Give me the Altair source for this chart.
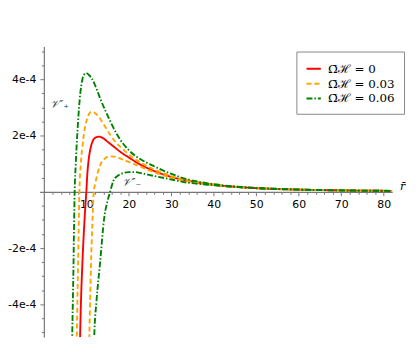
import altair as alt
import pandas as pd

# ---- data (r, potential in units of 1e-4) ----
labels = ["Ω̄ℋ = 0", "Ω̄ℋ = 0.03", "Ω̄ℋ = 0.06"]
colors = ["#ff0000", "#ffa500", "#008000"]

red_r = [8.45, 8.6, 8.8, 9.0, 9.2, 9.5, 9.75, 10.0, 10.2, 10.6, 11.0, 11.5, 12.2, 13.0, 14.0, 15.0,
         16.5, 18.0, 20.0, 22.0, 25.0, 30.0, 35.0, 40.0, 50.0, 60.0, 70.0, 80.0, 82.0]
red_v = [-5.7, -4.7, -3.6, -2.8, -2.1, -1.2, -0.55, 0.0, 0.55, 1.2, 1.55, 1.8, 1.93, 1.96, 1.9, 1.78,
         1.6, 1.42, 1.22, 1.03, 0.8, 0.53, 0.36, 0.25, 0.13, 0.078, 0.05, 0.035, 0.033]

orange_plus_r = [7.68, 7.75, 7.9, 8.06, 8.2, 8.37, 8.68, 9.0, 9.3, 9.7, 10.2, 10.7, 11.16, 12.0, 12.95,
                 14.0, 15.65, 17.0, 18.8, 20.5, 22.3, 25.0, 30.0, 35.0, 40.0, 50.0, 60.0, 70.0, 80.0, 82.0]
orange_plus_v = [-5.7, -5.16, -3.8, -2.58, -1.3, 0.0, 0.96, 1.5, 1.9, 2.3, 2.6, 2.78, 2.84, 2.8, 2.66,
                 2.42, 2.02, 1.75, 1.49, 1.27, 1.08, 0.86, 0.56, 0.38, 0.26, 0.135, 0.08, 0.051, 0.036, 0.034]

orange_minus_r = [10.6, 10.7, 10.9, 11.1, 11.4, 11.75, 12.1, 12.56, 13.1, 13.7, 14.5, 15.3, 16.5, 18.0,
                  20.0, 22.3, 25.0, 30.0, 35.0, 40.0, 50.0, 60.0, 70.0, 80.0, 82.0]
orange_minus_v = [-5.8, -5.16, -3.8, -2.58, -1.2, 0.0, 0.3, 0.61, 0.88, 1.08, 1.2, 1.26, 1.25, 1.18,
                  1.06, 0.92, 0.75, 0.5, 0.34, 0.24, 0.125, 0.075, 0.049, 0.034, 0.032]

green_plus_r = [6.6, 6.67, 6.85, 6.98, 7.1, 7.25, 7.5, 7.9, 8.45, 9.07, 9.5, 10.0, 10.6, 11.4, 12.3,
                13.3, 14.5, 15.65, 17.0, 18.0, 20.0, 22.3, 25.4, 29.3, 33.2, 38.6, 45.0, 50.0, 60.0,
                70.0, 80.0, 82.0]
green_plus_v = [-5.8, -5.16, -3.7, -2.58, -1.3, 0.0, 0.96, 2.13, 3.3, 4.0, 4.17, 4.22, 4.15, 4.0, 3.7,
                3.3, 2.88, 2.5, 2.1, 1.85, 1.48, 1.2, 0.95, 0.68, 0.47, 0.3, 0.19, 0.14, 0.082,
                0.052, 0.036, 0.034]

green_minus_r = [11.8, 11.86, 12.4, 13.2, 14.2, 15.0, 15.6, 16.4, 17.5, 18.8, 20.0, 21.5, 23.0, 25.4,
                 29.3, 33.2, 38.6, 45.0, 50.0, 60.0, 70.0, 80.0, 82.0]
green_minus_v = [-5.5, -5.16, -3.87, -2.58, -0.94, -0.32, 0.0, 0.4, 0.58, 0.67, 0.7, 0.7, 0.66, 0.58,
                 0.46, 0.34, 0.25, 0.17, 0.125, 0.075, 0.048, 0.034, 0.032]

ann_text = ["𝒱″₊", "𝒱″₋"]
ann_r = [3.7, 20.7]
ann_v = [3.1, 0.3]

x_ticks = list(range(2, 82, 2))
y_ticks = [-50, -45, -40, -35, -30, -25, -20, -15, -10, -5, 5, 10, 15, 20, 25, 30, 35, 40, 45, 50]

# ---- build table ----
curves = [
    ("red", labels[0], red_r, red_v),
    ("orange+", labels[1], orange_plus_r, orange_plus_v),
    ("orange-", labels[1], orange_minus_r, orange_minus_v),
    ("green+", labels[2], green_plus_r, green_plus_v),
    ("green-", labels[2], green_minus_r, green_minus_v),
]
rows = []
for cid, lab, rs, vs in curves:
    for r, v in zip(rs, vs):
        rows.append({"curve": cid, "omega": lab, "r": r, "v": v})
df = pd.DataFrame(rows)
ann = pd.DataFrame({"r": ann_r, "v": ann_v, "t": ann_text})

W, H = 357, 294
xdom = [-1, 82]
ydom = [-5.16, 5.16]

xscale = alt.Scale(domain=xdom, nice=False, zero=False)
yscale = alt.Scale(domain=ydom, nice=False, zero=False)

xaxis = alt.Axis(
    values=x_ticks, orient="bottom", offset=-H / 2, grid=False, title="r̄",
    titleX=W + 10, titleY=-5, titleAlign="center", titleBaseline="middle", titleAngle=0,
    titleFont="DejaVu Serif", titleFontStyle="italic", titleFontWeight="normal", titleFontSize=11,
    labelExpr="datum.value % 10 === 0 ? datum.value : ''",
    tickSize={"condition": {"test": "datum.value % 10 === 0", "value": 4}, "value": 2.5},
    labelFont="DejaVu Sans", labelFontSize=11, labelColor="black", labelPadding=3,
    domainColor="#777", tickColor="#777", domainWidth=1.2, labelOverlap=False, labelFlush=False,
)
yaxis = alt.Axis(
    values=[t / 10 for t in y_ticks], orient="left",
    offset=-(W / (xdom[1] - xdom[0])) * (0 - xdom[0]), grid=False, title=None,
    labelExpr="(round(abs(datum.value) * 10) % 20 === 0) ? ((datum.value < 0 ? '-' : '') + round(abs(datum.value)) + 'e-4') : ''",
    tickSize={"condition": {"test": "round(abs(datum.value) * 10) % 20 === 0", "value": 4}, "value": 2.5},
    labelFont="DejaVu Sans", labelFontSize=11, labelColor="black", labelPadding=4,
    domainColor="#777", tickColor="#777", domainWidth=1.2, labelOverlap=False, labelFlush=False,
)

lines = alt.Chart(df).mark_line(clip=True, strokeWidth=1.9, interpolate="monotone").encode(
    x=alt.X("r:Q", scale=xscale, axis=xaxis),
    y=alt.Y("v:Q", scale=yscale, axis=yaxis),
    color=alt.Color("omega:N", scale=alt.Scale(domain=labels, range=colors),
                    legend=alt.Legend(
                        title=None, orient="none", legendX=260, legendY=5,
                        strokeColor="#888", fillColor="white", padding=9,
                        symbolType="stroke", symbolSize=210, symbolStrokeWidth=2,
                        labelFont="DejaVu Serif", labelFontSize=12, labelColor="black",
                        labelOffset=6, rowPadding=0, labelLimit=200)),
    strokeDash=alt.StrokeDash("omega:N", scale=alt.Scale(domain=labels, range=[[1, 0], [5, 3], [6, 2, 1.5, 2]]),
                              legend=alt.Legend(title=None, orient="none", legendX=260, legendY=5)),
    detail="curve:N",
)

texts = alt.Chart(ann).mark_text(font="DejaVu Serif", fontStyle="italic", fontSize=11, color="#333").encode(
    x=alt.X("r:Q", scale=xscale, axis=xaxis),
    y=alt.Y("v:Q", scale=yscale, axis=yaxis),
    text="t:N",
)

chart = alt.layer(lines, texts).properties(
    width=W, height=H,
    autosize=alt.AutoSizeParams(type="none"),
    padding={"left": 32, "top": 37, "right": 16, "bottom": 4},
).configure_view(stroke=None)

chart.save("out.html", embed_options={"renderer": "svg", "actions": False})
